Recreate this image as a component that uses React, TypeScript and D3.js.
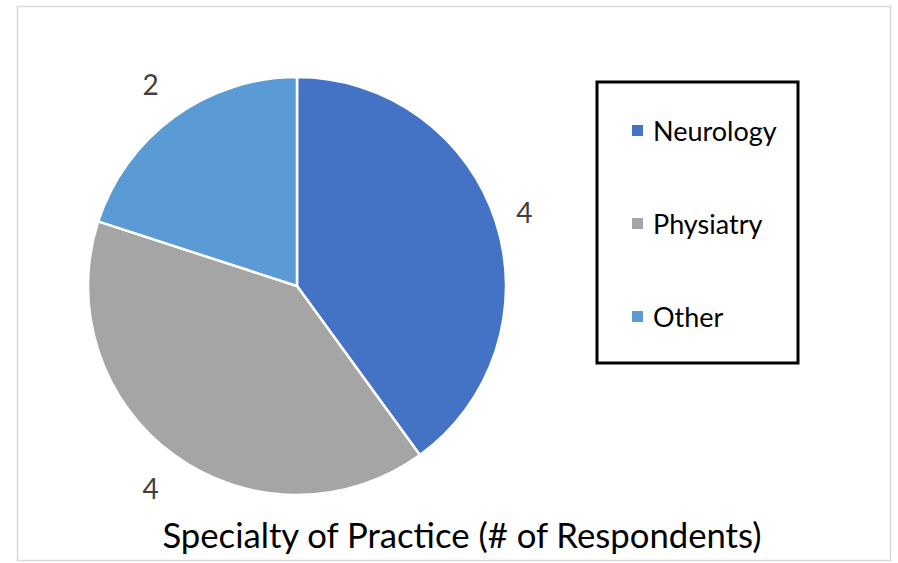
import React from "react";
import * as d3 from "d3";

const categories = ["Neurology", "Physiatry", "Other"];
const values = [4, 4, 2];
const colors = ["#4472C4", "#A5A5A5", "#5B9BD5"];
const title = "Specialty of Practice (# of Respondents)";

const W = 898;
const H = 563;
const FONT = "Lato, 'Open Sans', sans-serif";

export default function App() {
  const cx = 297;
  const cy = 286;
  const r = 209;
  const data = categories.map((c, i) => ({ name: c, value: values[i], color: colors[i] }));
  const pie = d3.pie<any>().value((d) => d.value).sort(null);
  const arcs = pie(data);
  const arc = d3.arc<any>().innerRadius(0).outerRadius(r);

  const legendX = 597;
  const legendY = 82;
  const legendW = 201;
  const legendH = 281;
  const legendStep = 93;
  const legendFirst = 130.5;

  return (
    <svg
      width={W}
      height={H}
      style={{ position: "absolute", left: 0, top: 0, background: "#fff" }}
      fontFamily={FONT}
    >
      <rect x={0} y={0} width={W} height={H} fill="#fff" />
      <rect x={17.5} y={6.5} width={873} height={554} fill="#fff" stroke="#D9D9D9" strokeWidth={1.5} />
      <g transform={`translate(${cx},${cy})`}>
        {arcs.map((a, i) => (
          <path key={i} d={arc(a) || ""} fill={a.data.color} stroke="#fff" strokeWidth={2.5} strokeLinejoin="round" />
        ))}
        {arcs.map((a, i) => {
          const mid = (a.startAngle + a.endAngle) / 2;
          const lr = 233 + 20 * Math.abs(Math.cos(mid));
          const x = Math.sin(mid) * lr;
          const y = -Math.cos(mid) * lr;
          return (
            <text
              key={"l" + i}
              x={x}
              y={y}
              textAnchor="middle"
              dominantBaseline="central"
              fontSize={28}
              fill="#404040"
            >
              {a.data.value}
            </text>
          );
        })}
      </g>
      <rect
        x={legendX}
        y={legendY}
        width={legendW}
        height={legendH}
        fill="#fff"
        stroke="#000"
        strokeWidth={3}
      />
      {data.map((d, i) => {
        const yc = legendFirst + i * legendStep;
        return (
          <g key={"lg" + i}>
            <rect x={632} y={yc - 5.5} width={11} height={11} fill={d.color} />
            <text x={653} y={yc} dominantBaseline="central" fontSize={27} fill="#000">
              {d.name}
            </text>
          </g>
        );
      })}
      <text x={462} y={548} textAnchor="middle" fontSize={34.7} fill="#000">
        {title}
      </text>
    </svg>
  );
}
